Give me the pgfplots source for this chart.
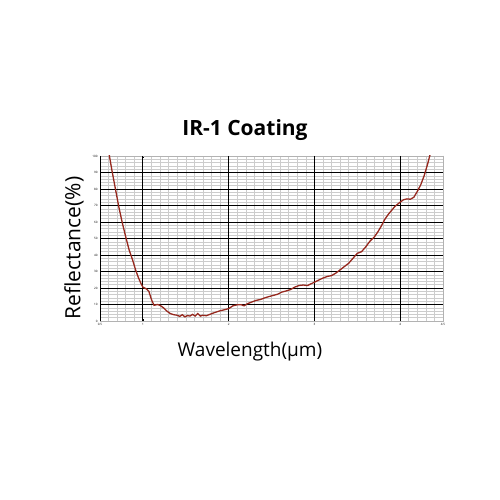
\documentclass[border=0pt]{standalone}
\usepackage{pgfplots}
\pgfplotsset{compat=1.18}
\usepackage{fontspec}
\setmainfont{Open Sans}
\definecolor{curve}{RGB}{150,40,30}
\begin{document}
\begin{tikzpicture}[x=1pt,y=1pt]
\path[use as bounding box] (0,0) rectangle (500,500);
\begin{axis}[
  at={(100pt,179pt)}, anchor=south west,
  scale only axis, width=343pt, height=165pt,
  xmin=0.5, xmax=4.5, ymin=0, ymax=10,
  xtick={0.5,1,2,3,4,4.5},
  xticklabels={0.5,1,2,3,4,4.5},
  ytick={0,1,...,10},
  yticklabels={0,10,20,30,40,50,60,70,80,90,100},
  minor xtick={0.6,0.7,0.8,0.9,1.1,1.2,1.3,1.4,1.5,1.6,1.7,1.8,1.9,2.1,2.2,2.3,2.4,2.5,2.6,2.7,2.8,2.9,3.1,3.2,3.3,3.4,3.5,3.6,3.7,3.8,3.9,4.1,4.2,4.3,4.4},
  minor ytick={0.2,0.4,0.6,0.8,1.2,1.4,1.6,1.8,2.2,2.4,2.6,2.8,3.2,3.4,3.6,3.8,4.2,4.4,4.6,4.8,5.2,5.4,5.6,5.8,6.2,6.4,6.6,6.8,7.2,7.4,7.6,7.8,8.2,8.4,8.6,8.8,9.2,9.4,9.6,9.8},
  ymajorgrids=true, xminorgrids=true, yminorgrids=true,
  major grid style={black, line width=0.8pt},
  minor grid style={gray!40, line width=0.5pt},
  axis line style={gray!60, line width=0.6pt},
  tick style={black, line width=0.5pt},
  major tick length=2pt, minor tick length=0pt,
  tick label style={font=\fontsize{3}{3}\selectfont},
  xticklabel style={yshift=1pt},
  yticklabel style={xshift=1pt},
  clip=true,
]
\foreach \xv in {1,2,3,4} {
  \edef\temp{\noexpand\draw[black, line width=0.8pt] (axis cs:\xv,0) -- (axis cs:\xv,10);}
  \temp
}
\draw[black, line width=0.8pt] (axis cs:0.5,0) -- (axis cs:0.5,10);
\addplot[curve, line width=1.3pt] coordinates {
(0.60,10.3) (0.64,9.1) (0.68,8.0) (0.72,6.9) (0.76,5.95) (0.80,5.1) (0.84,4.3) (0.88,3.7) (0.915,3.1) (0.95,2.6) (0.98,2.25) (1.00,2.05)
(1.04,1.95) (1.07,1.8) (1.10,1.3) (1.13,0.95) (1.17,1.0) (1.20,0.95) (1.24,0.8) (1.28,0.6) (1.32,0.45) (1.36,0.38)
(1.40,0.35) (1.43,0.28) (1.46,0.38) (1.49,0.25) (1.52,0.33) (1.55,0.3) (1.58,0.4) (1.61,0.3) (1.64,0.45) (1.67,0.3) (1.70,0.35)
(1.74,0.32) (1.78,0.4) (1.82,0.48) (1.86,0.55) (1.90,0.62) (1.95,0.68) (2.00,0.75) (2.05,0.92) (2.10,0.98) (2.15,0.98) (2.18,0.92)
(2.22,1.05) (2.27,1.15) (2.32,1.25) (2.37,1.3) (2.42,1.4) (2.47,1.48) (2.52,1.55) (2.57,1.62) (2.62,1.75) (2.67,1.82) (2.72,1.9)
(2.77,2.05) (2.82,2.15) (2.87,2.18) (2.92,2.15) (2.96,2.25) (3.00,2.35) (3.05,2.48) (3.10,2.6) (3.15,2.7) (3.20,2.75) (3.25,2.9)
(3.30,3.1) (3.35,3.3) (3.40,3.5) (3.45,3.8) (3.50,4.1) (3.55,4.2) (3.60,4.5) (3.65,4.85) (3.70,5.1) (3.74,5.4) (3.78,5.75)
(3.82,6.15) (3.86,6.45) (3.90,6.7) (3.94,6.95) (4.00,7.2) (4.04,7.35) (4.08,7.4) (4.12,7.38) (4.16,7.5) (4.20,7.85) (4.24,8.25)
(4.28,8.8) (4.32,9.5) (4.36,10.3)
};
\end{axis}
\node[font=\bfseries\fontsize{21}{21}\selectfont] at (245,370) {IR-1 Coating};
\node[font=\fontsize{19}{19}\selectfont] at (250,148) {Wavelength(µm)};
\node[font=\fontsize{21}{21}\selectfont, rotate=90] at (74,252) {Reflectance(\%)};
\end{tikzpicture}
\end{document}
